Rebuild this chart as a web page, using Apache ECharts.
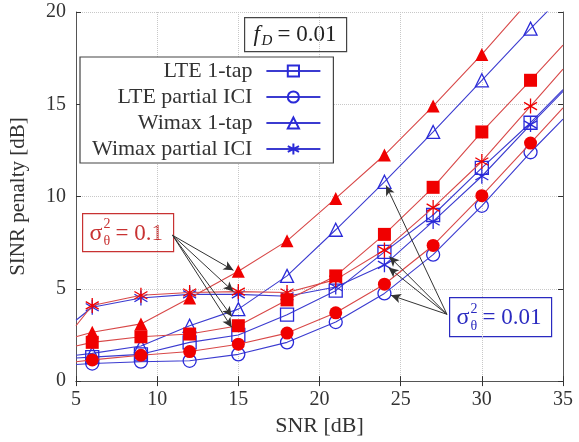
<!DOCTYPE html>
<html><head><meta charset="utf-8">
<script src="https://cdn.jsdelivr.net/npm/echarts@6/dist/echarts.min.js"></script>
<style>html,body{margin:0;padding:0;background:#fff}#c{width:579px;height:442px}</style>
</head><body><div id="c"></div>
<script>
// SNR [dB] of the marked points
const snr = [6, 9, 12, 15, 18, 21, 24, 27, 30, 33];
const xTicks = [5, 10, 15, 20, 25, 30, 35];
const yTicks = [0, 5, 10, 15, 20];
const legendNames = ['LTE 1-tap', 'LTE partial ICI', 'Wimax 1-tap', 'Wimax partial ICI'];
// sigma^2 = 0.1 (red, filled markers)
const lte1tapHigh    = [2.1, 2.4, 2.55, 3.0, 4.4, 5.7, 7.95, 10.5, 13.5, 16.3];
const lteIciHigh     = [1.15, 1.4, 1.6, 2.0, 2.6, 3.7, 5.25, 7.35, 10.05, 12.9];
const wimax1tapHigh  = [2.65, 3.1, 4.5, 5.95, 7.6, 9.9, 12.25, 14.9, 17.7, 20.7];
const wimaxIciHigh   = [4.1, 4.65, 4.8, 4.85, 4.8, 5.5, 7.1, 9.4, 11.9, 14.9];
// sigma^2 = 0.01 (blue, hollow markers)
const lte1tapLow     = [1.3, 1.45, 2.1, 2.5, 3.6, 4.9, 7.0, 9.0, 11.55, 14.0];
const lteIciLow      = [0.95, 1.05, 1.1, 1.45, 2.1, 3.2, 4.75, 6.85, 9.5, 12.4];
const wimax1tapLow   = [1.5, 1.9, 3.0, 3.9, 5.7, 8.2, 10.8, 13.5, 16.3, 19.1];
const wimaxIciLow    = [4.0, 4.5, 4.7, 4.7, 4.6, 5.1, 6.3, 8.65, 11.1, 13.9];
// curve values where the lines leave the plot (SNR 5 and 35)
const lte1tapHighEdge   = [1.9, 18.2];
const lteIciHighEdge    = [1.05, 14.8];
const wimax1tapHighEdge = [2.4, 22.6];
const wimaxIciHighEdge  = [3.0, 16.9];
const lte1tapLowEdge    = [1.25, 15.8];
const lteIciLowEdge     = [0.9, 14.2];
const wimax1tapLowEdge  = [1.4, 20.9];
const wimaxIciLowEdge   = [3.3, 15.7];

const FONT = 'Liberation Serif';
const RED_LINE = '#d84848', RED = '#f00000';
const BLUE_LINE = '#3b3bd0', BLUE = '#2a2ad8';
const STAR = 'path://M0,-1L0,1M-0.866,-0.5L0.866,0.5M-0.866,0.5L0.866,-0.5';

function mk(name, vals, edge, red, symbol) {
  const data = [{value: [5, edge[0]], symbol: 'none'}]
    .concat(snr.map((x, i) => [x, vals[i]]))
    .concat([{value: [35, edge[1]], symbol: 'none'}]);
  const isStar = symbol === STAR;
  const lineColor = red ? RED_LINE : BLUE_LINE;
  const mColor = red ? RED : BLUE;
  return {
    name: name, type: 'line', data: data, symbol: symbol,
    symbolSize: isStar ? 15 : 13, symbolKeepAspect: true, showAllSymbol: true,
    clip: true, animation: false, silent: true, z: red ? 3 : 2,
    lineStyle: {color: lineColor, width: 1.1},
    itemStyle: red && !isStar
      ? {color: mColor, borderColor: mColor, borderWidth: 0}
      : {color: 'rgba(0,0,0,0)', borderColor: mColor, borderWidth: 1.3},
    emphasis: {disabled: true}
  };
}

const series = [
  mk('LTE 1-tap', lte1tapLow, lte1tapLowEdge, false, 'rect'),
  mk('LTE partial ICI', lteIciLow, lteIciLowEdge, false, 'circle'),
  mk('Wimax 1-tap', wimax1tapLow, wimax1tapLowEdge, false, 'triangle'),
  mk('Wimax partial ICI', wimaxIciLow, wimaxIciLowEdge, false, STAR),
  mk('LTE 1-tap 0.1', lte1tapHigh, lte1tapHighEdge, true, 'rect'),
  mk('LTE partial ICI 0.1', lteIciHigh, lteIciHighEdge, true, 'circle'),
  mk('Wimax 1-tap 0.1', wimax1tapHigh, wimax1tapHighEdge, true, 'triangle'),
  mk('Wimax partial ICI 0.1', wimaxIciHigh, wimaxIciHighEdge, true, STAR)
];
// annotation arrows (data coordinates)
const arrowStyle = {color: '#333', width: 1, type: 'solid'};
series.push({
  type: 'line', data: [], silent: true, z: 5,
  markLine: {
    silent: true, animation: false, symbol: ['none', 'arrow'], symbolSize: [7, 10],
    label: {show: false}, lineStyle: arrowStyle,
    data: [
      [{coord: [10.95, 7.9]}, {coord: [14.7, 6.0]}],
      [{coord: [10.95, 7.9]}, {coord: [14.7, 4.85]}],
      [{coord: [10.95, 7.9]}, {coord: [14.6, 3.5]}],
      [{coord: [10.95, 7.9]}, {coord: [14.6, 2.9]}],
      [{coord: [27.85, 3.62]}, {coord: [24.1, 10.6]}],
      [{coord: [27.85, 3.62]}, {coord: [24.3, 6.75]}],
      [{coord: [27.85, 3.62]}, {coord: [24.25, 6.15]}],
      [{coord: [27.85, 3.62]}, {coord: [24.4, 4.65]}]
    ]
  }
});

function axisBase(extra) {
  return Object.assign({
    type: 'value',
    axisLine: {show: true, lineStyle: {color: '#555', width: 1}},
    axisTick: {show: true, inside: true, length: 5, lineStyle: {color: '#333'}},
    splitLine: {show: false},
    axisLabel: {show: false}
  }, extra);
}

const chart = echarts.init(document.getElementById('c'), null, {renderer: 'canvas'});

function sigmaBox(left, top, w, h, color, value) {
  return {
    type: 'group', left: left, top: top, z: 100,
    children: [
      {type: 'rect', shape: {x: 0, y: 0, width: w, height: h}, style: {fill: '#fff', stroke: color, lineWidth: 1.2}},
      {type: 'text', x: 7, y: h / 2 + 1, style: {text: 'σ', fontFamily: FONT, fontSize: 24, fill: color, verticalAlign: 'middle'}},
      {type: 'text', x: 21, y: h / 2 - 8, style: {text: '2', fontFamily: FONT, fontSize: 14, fill: color, verticalAlign: 'middle'}},
      {type: 'text', x: 21, y: h / 2 + 9, style: {text: 'θ', fontFamily: FONT, fontSize: 14, fill: color, verticalAlign: 'middle'}},
      {type: 'text', x: 33, y: h / 2 + 1, style: {text: '= ' + value, fontFamily: FONT, fontSize: 23, fill: color, verticalAlign: 'middle'}}
    ]
  };
}

chart.setOption({
  animation: false,
  backgroundColor: '#fff',
  grid: {left: 76, right: 16, top: 12, bottom: 60},
  xAxis: [
    axisBase({
      min: xTicks[0], max: xTicks[xTicks.length - 1], interval: 5, position: 'bottom',
      splitLine: {show: true, lineStyle: {color: '#c8c8c8', type: 'dotted', width: 1}},
      axisLabel: {show: true, fontFamily: FONT, fontSize: 20, color: '#333', margin: 9},
      name: 'SNR [dB]', nameLocation: 'middle', nameGap: 24,
      nameTextStyle: {fontFamily: FONT, fontSize: 22, color: '#333', verticalAlign: 'top'}
    }),
    axisBase({min: xTicks[0], max: xTicks[xTicks.length - 1], interval: 5, position: 'top'})
  ],
  yAxis: [
    axisBase({
      min: yTicks[0], max: yTicks[yTicks.length - 1], interval: 5, position: 'left',
      splitLine: {show: true, lineStyle: {color: '#c8c8c8', type: 'dotted', width: 1}},
      axisLabel: {show: true, fontFamily: FONT, fontSize: 20, color: '#333', margin: 10},
      name: 'SINR penalty [dB]', nameLocation: 'middle', nameGap: 47,
      nameTextStyle: {fontFamily: FONT, fontSize: 21, color: '#333'}
    }),
    axisBase({min: yTicks[0], max: yTicks[yTicks.length - 1], interval: 5, position: 'right'})
  ],
  legend: {
    data: legendNames, orient: 'vertical', align: 'right',
    left: 80, top: 57, itemWidth: 54, itemHeight: 14, itemGap: 4,
    padding: [3, 12, 3, 12],
    borderColor: '#444', borderWidth: 1.2, backgroundColor: '#fff',
    selectedMode: false,
    textStyle: {fontFamily: FONT, fontSize: 22, color: '#333', padding: [0, 9, 0, 0]}
  },
  graphic: [
    {
      type: 'group', left: 244, top: 17, z: 100,
      children: [
        {type: 'rect', shape: {x: 0, y: 0, width: 102, height: 34}, style: {fill: '#fff', stroke: '#444', lineWidth: 1.2}},
        {type: 'text', x: 9, y: 17, style: {text: 'f', fontFamily: FONT, fontStyle: 'italic', fontSize: 23, fill: '#222', verticalAlign: 'middle'}},
        {type: 'text', x: 17, y: 23, style: {text: 'D', fontFamily: FONT, fontStyle: 'italic', fontSize: 15, fill: '#222', verticalAlign: 'middle'}},
        {type: 'text', x: 33, y: 17, style: {text: '= 0.01', fontFamily: FONT, fontSize: 23, fill: '#222', verticalAlign: 'middle'}}
      ]
    },
    sigmaBox(82, 213, 91, 38, '#c83232', '0.1'),
    sigmaBox(449, 297, 102, 39, '#2a2ac0', '0.01')
  ],
  series: series
});
</script>
</body></html>
